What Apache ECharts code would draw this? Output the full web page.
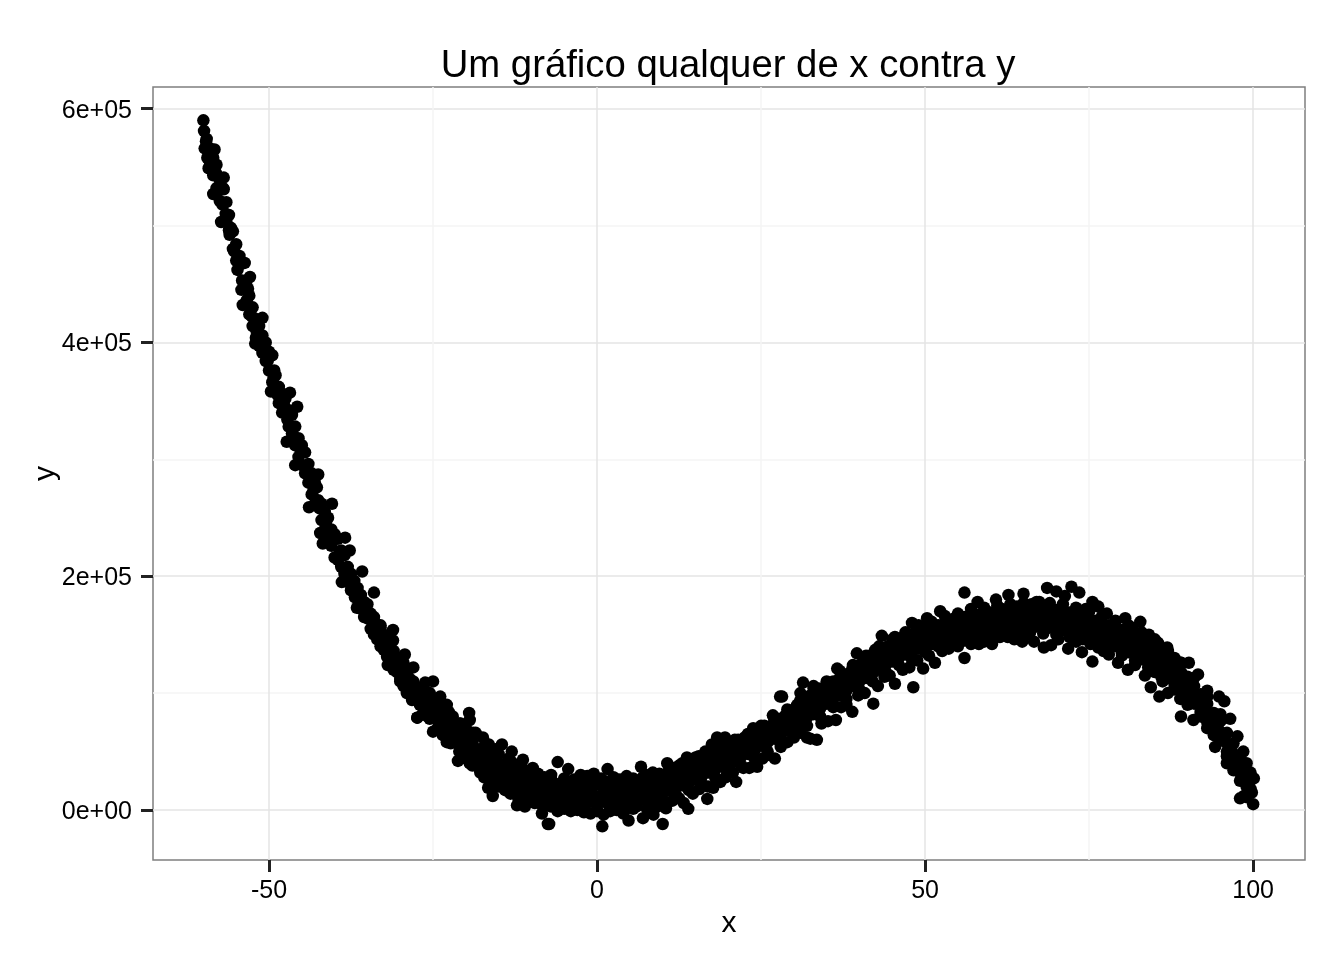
<!DOCTYPE html>
<html>
<head>
<meta charset="utf-8">
<style>html,body{margin:0;padding:0;background:#fff}#c{width:1344px;height:960px}</style>
<script src="https://cdn.jsdelivr.net/npm/echarts@6/dist/echarts.min.js"></script>
</head>
<body>
<div id="c"></div>
<script>
const titleText = "Um gráfico qualquer de x contra y";
const xTicks = [-50, 0, 50, 100];
const xMinorTicks = [-25, 25, 75];
const yTicks = [0, 200000, 400000, 600000];
const yMinorTicks = [100000, 300000, 500000];
const yTickLabels = ["0e+00", "2e+05", "4e+05", "6e+05"];

const leftArm = [
[-60,590000],[-59.9,581000],[-59.8,566000],[-59.6,572000],[-59.5,574000],[-59.4,558000],[-59.2,549000],[-59,566000],[-59,552000],[-58.5,527000],[-58.5,558000],[-58.5,543000],[-58.3,565000],[-58,552000],[-58,532000],[-57.5,539000],[-57.5,521000],[-57.3,503000],[-57,532000],[-56.9,541000],[-56.9,531000],[-56.5,520000],[-56.5,503000],[-56.1,509000],[-56,492000],[-55.8,498000],[-55.5,495000],[-55.5,480000],[-55,484000],[-55,470000],[-54.7,468000],[-54.5,474000],[-54.3,467000],[-53.7,468000],[-54.1,453000],[-52.9,456000],[-53.5,450000],[-54.2,445000],[-53.4,436000],[-54,432000],[-53,440000],[-53,424000],[-52.5,430000],[-52.5,414000],[-52,420000],[-52,404000],[-51.5,414000],[-51.5,397000],[-51,421000],[-51,406000],[-51,391000],[-52.1,399000],[-50.5,400000],[-50.5,384000],[-50,392000],[-50,376000],[-49.5,389000],[-49.5,366000],[-49.2,376000],[-49.7,358000],[-49,372000],[-48.5,362000],[-48.5,348000],[-48,340000],[-48,356000],[-47.5,352000],[-47.3,315000],[-47,342000],[-47,328000],[-46.8,357000],[-46.5,338000],[-46.5,322000],[-46,295000],[-46,328000],[-46,312000],[-45.7,345000],[-45.5,318000],[-45.5,302000],[-45,312000],[-45,295000],[-44.5,306000],[-44.5,288000],[-44,296000],[-44,280000],[-43.9,259000],[-43.5,288000],[-43.5,270000],[-43,280000],[-43,262000],[-42.7,276000],[-42.5,287000],[-42.5,265000],[-42.2,237000],[-42,262000],[-42,248000],[-41.8,228000],[-41.5,255000],[-41.5,240000],[-41,250000],[-41,234000],[-40.4,262000],[-40.5,240000],[-40.5,226000],[-40,216000],[-40,236000],[-39.5,232000],[-39.5,214000],[-39,222000],[-38.9,195000],[-39,208000],[-38.5,218000],[-38.4,233000],[-38.5,202000],[-38,208000],[-38,195000],[-37.7,222000],[-37.5,202000],[-37.5,188000],[-36.9,182000],[-37,196000],[-36.6,173000],[-36.5,190000],[-36,184000],[-36,172000],[-35.8,204000],[-35.5,178000],[-35.5,165000],[-35,164000],[-35,176000],[-34.5,168000],[-34.5,155000],[-34.1,156000],[-34,186000],[-34,162000],[-33.5,155000],[-33.5,146000],[-33,145000],[-33,158000],[-32.5,150000],[-32.5,137000],[-32,139000],[-32,148000],[-31.9,124000],[-31.5,142000],[-31.5,130000],[-31.1,154000],[-31.1,145000],[-31,126000],[-30.5,130000],[-30.5,118000],[-30,110000],[-30,124000],[-29.5,126000],[-29.3,133000],[-29.5,106000],[-29,118000],[-29,100000],[-28.5,112000],[-28.2,94000],[-28,122000],[-28,106000],[-27.4,79000]
];

const leftArmFill = [
[-59.3,566000],[-58.7,555000],[-58.1,545000],[-57.6,530000],[-57.1,518000],[-56.6,510000],[-56.1,496000],[-55.3,478000],[-54.8,462000],[-53.2,446000],[-52.6,422000],[-51.9,410000],[-51.2,400000],[-50.2,384000],[-49.3,370000],[-48.7,355000],[-47.7,346000],[-47.2,334000],[-46.2,318000],[-45.2,308000],[-44.2,292000],[-43.2,274000],[-42.3,258000],[-41.3,244000],[-40.2,232000],[-39.2,220000],[-38.2,206000],[-37.2,194000],[-36.2,180000],[-35.2,170000],[-34.2,160000],[-33.2,150000],[-32.2,142000],[-31.2,132000],[-30.2,122000],[-29.2,112000],[-28.3,104000]
];

const bandUpper = [
[-27.5,104000],[-26.5,98000],[-26.2,109000],[-25.5,100000],[-25,110000],[-24.5,92000],[-23.9,97000],[-23,86000],[-22.9,90000],[-22,80000],[-21,74000],[-20,70000],[-19.5,83000],[-19.4,77000],[-18.5,66000],[-17.4,62000],[-16.5,56000],[-15.5,52000],[-14.5,56000],[-13.5,44000],[-13,50000],[-12,38000],[-11.3,43000],[-10.5,32000],[-9.8,36000],[-9,30000],[-8,28000],[-7,30000],[-6,41000],[-5,27000],[-4.4,35000],[-3.5,26000],[-2.5,30000],[-1.5,29000],[-0.5,31000],[0.6,27000],[1.6,35000],[2.5,28000],[3.5,26000],[4.5,29000],[5.5,27000],[6.7,37000],[7.5,30000],[8.5,32000],[9.5,31000],[10.7,40000],[11.5,36000],[12.5,38000],[13.7,45000],[14.5,42000],[15.5,46000],[16.5,50000],[17.5,56000],[18.3,62000],[19.5,62000],[20.5,55000],[21.5,60000],[22.5,62000],[23.8,70000],[24.5,68000],[25.5,72000],[26.8,81000],[27.5,78000],[27.9,97000],[28.2,97000],[28.7,81000],[29.5,84000],[30.5,90000],[31,100000],[31.4,109000],[32.5,98000],[33,106000],[33.8,104000],[35,108000],[36.6,121000],[37.5,116000],[38.9,121000],[39.6,134000],[40.5,126000],[41.5,132000],[42.4,137000],[43.4,149000],[44.3,140000],[45.4,148000],[46.2,145000],[47,150000],[48,160000],[49,156000],[50.3,164000],[51.2,158000],[52.3,170000],[53.5,162000],[54.5,164000],[56,186000],[57,168000],[58,178000],[59.2,170000],[60.8,180000],[61.7,172000],[62.7,184000],[64,174000],[65,185000],[66.2,176000],[67.4,178000],[68.6,190000],[70,187000],[71.3,183000],[72.3,191000],[73.5,186000],[74.5,172000],[75.5,178000],[76.4,174000],[77.7,168000],[79,162000],[80.5,164000],[81.6,156000],[82.8,161000],[84.1,150000],[85.5,143000],[86.9,139000],[88,130000],[89,126000],[90.2,126000],[91.6,116000],[93,102000],[94.8,97000],[95.6,93000],[96.5,78000],[97.6,63000],[98.5,50000],[99,40000],[99.6,32000],[100.1,27000]
];

const bandOuterUpper = [
[-26.5,104000],[-24.7,93000],[-22.6,84000],[-20.8,74000],[-18.9,66000],[-17,57000],[-15,48000],[-13,41000],[-11,34000],[-9,31000],[-7,27000],[-5,26000],[-3,25000],[-1,26000],[1,25000],[3,26000],[5,25000],[7,28000],[9,30000],[11,35000],[13,40000],[15,45000],[17,50000],[19,55000],[21,60000],[23,65000],[25,72000],[27,78000],[29,86000],[31,94000],[33,104000],[35,110000],[37,119000],[39,124000],[41,132000],[43,140000],[45,146000],[47,152000],[49,158000],[51,161000],[53,166000],[55,168000],[57,172000],[59,173000],[61,175000],[63,176000],[65,177000],[67,178000],[69,177000],[71,176000],[73,173000],[75,170000],[77,166000],[79,161000],[81,158000],[83,152000],[85,146000],[87,136000],[89,126000],[91,113000],[93,97000],[95,82000]
];

const bandMidUpper = [
[-34,165000],[-33,156000],[-32,146000],[-31,136000],[-30,126000],[-29,116000],[-28,110000],[-27,102000],[-26,96000],[-25,93000],[-24,85000],[-23,80000],[-22,74000],[-21,70000],[-20,62000],[-19,58000],[-18,52000],[-17,48000],[-16,44000],[-15,40000],[-14,37000],[-13,32000],[-12,31000],[-11,27000],[-10,26000],[-9,23000],[-8,24000],[-7,21000],[-6,22000],[-5,20000],[-4,21000],[-3,19000],[-2,21000],[-1,20000],[0,22000],[1,19000],[2,21000],[3,20000],[4,19000],[5,21000],[6,22000],[7,23000],[8,25000],[9,26000],[10,29000],[11,31000],[12,33000],[13,36000],[14,38000],[15,41000],[16,43000],[17,47000],[18,49000],[19,53000],[20,53000],[21,56000],[22,58000],[23,61000],[24,64000],[25,67000],[26,71000],[27,75000],[28,78000],[29,82000],[30,86000],[31,90000],[32,93000],[33,98000],[34,101000],[35,106000],[36,110000],[37,113000],[38,116000],[39,121000],[40,124000],[41,128000],[42,131000],[43,134000],[44,138000],[45,141000],[46,144000],[47,147000],[48,150000],[49,152000],[50,155000],[51,156000],[52,158000],[53,160000],[54,162000],[55,163000],[56,165000],[57,165000],[58,167000],[59,167000],[60,169000],[61,169000],[62,171000],[63,170000],[64,172000],[65,171000],[66,173000],[67,172000],[68,172000],[69,171000],[70,171000],[71,169000],[72,169000],[73,167000],[74,165000],[75,164000],[76,162000],[77,160000],[78,158000],[79,155000],[80,154000],[81,151000],[82,148000],[83,146000],[84,141000],[85,139000],[86,134000],[87,129000],[88,123000],[89,118000],[90,114000],[91,106000],[92,99000],[93,91000],[94,83000],[95,76000],[96,66000],[97,57000],[98,46000],[99,33000]
];

const bandCentre = [
[-28,100000],[-27,96000],[-26,90000],[-25,86000],[-24,78000],[-23.2,74000],[-22.2,68000],[-21.2,62000],[-20.3,56000],[-19.2,50000],[-18.3,46000],[-17.3,41000],[-16.2,37000],[-15.2,32000],[-14.2,30000],[-13.2,26000],[-12.2,23000],[-11.2,20000],[-10.2,19000],[-9.2,17000],[-8.2,16000],[-7.2,14000],[-6.2,15000],[-5.2,13000],[-4.2,14000],[-3.2,12000],[-2.2,13000],[-1.2,14000],[-0.2,12000],[0.8,13000],[1.8,14000],[2.8,12000],[3.8,13000],[4.8,14000],[5.8,15000],[6.8,15000],[7.8,18000],[8.8,19000],[9.8,22000],[10.8,24000],[11.8,26000],[12.8,28000],[13.8,31000],[14.8,33000],[15.8,36000],[16.8,38000],[17.8,42000],[18.8,44000],[19.8,46000],[20.8,48000],[21.8,52000],[22.8,53000],[23.8,57000],[24.8,60000],[25.8,63000],[26.8,67000],[27.8,71000],[28.8,74000],[29.8,79000],[30.8,82000],[31.8,86000],[32.8,90000],[33.8,94000],[34.8,98000],[35.8,102000],[36.8,105000],[37.8,109000],[38.8,113000],[39.8,117000],[40.8,120000],[41.8,124000],[42.8,127000],[43.8,131000],[44.8,134000],[45.8,137000],[46.8,140000],[47.8,142000],[48.8,145000],[49.8,148000],[50.8,149000],[51.8,151000],[52.8,153000],[53.8,154000],[54.8,156000],[55.8,157000],[56.8,158000],[57.8,159000],[58.8,160000],[59.8,161000],[60.8,162000],[61.8,162000],[62.8,163000],[63.8,163000],[64.8,164000],[65.8,164000],[66.8,165000],[67.8,164000],[68.8,164000],[69.8,163000],[70.8,161000],[71.8,161000],[72.8,159000],[73.8,158000],[74.8,156000],[75.8,155000],[76.8,152000],[77.8,150000],[78.8,148000],[79.8,146000],[80.8,143000],[81.8,140000],[82.8,137000],[83.8,134000],[84.8,131000],[85.8,125000],[86.8,121000],[87.8,116000],[88.8,111000],[89.8,106000],[90.8,99000],[91.8,92000],[92.8,83000],[93.8,76000],[94.8,68000],[95.8,58000],[96.8,50000],[97.8,40000],[98.3,33000],[98.8,27000],[99.3,22000],[99.6,18000]
];

const bandMidLower = [
[-34,150000],[-33,140000],[-32,131000],[-31,120000],[-30,112000],[-29,104000],[-28,96000],[-27,90000],[-26,84000],[-25,79000],[-24,72000],[-23,67000],[-22,62000],[-21,55000],[-20,49000],[-19,44000],[-18,39000],[-17,35000],[-16,30000],[-15,25000],[-14,23000],[-13,20000],[-12,16000],[-11,13000],[-10,12000],[-9,10000],[-8,9000],[-7,8000],[-6,7000],[-5,6000],[-4,7000],[-3,6000],[-2,6000],[-1,7000],[0,5000],[1,7000],[2,6000],[3,6000],[4,7000],[5,8000],[6,8000],[7,9000],[8,11000],[9,12000],[10,15000],[11,17000],[12,19000],[13,21000],[14,23000],[15,26000],[16,29000],[17,32000],[18,35000],[19,37000],[20,39000],[21,42000],[22,46000],[23,48000],[24,51000],[25,55000],[26,58000],[27,61000],[28,65000],[29,68000],[30,72000],[31,75000],[32,79000],[33,82000],[34,87000],[35,91000],[36,95000],[37,98000],[38,102000],[39,106000],[40,110000],[41,113000],[42,117000],[43,120000],[44,124000],[45,127000],[46,130000],[47,133000],[48,135000],[49,138000],[50,140000],[51,142000],[52,144000],[53,146000],[54,147000],[55,149000],[56,150000],[57,151000],[58,152000],[59,153000],[60,154000],[61,155000],[62,155000],[63,156000],[64,156000],[65,157000],[66,157000],[67,157000],[68,157000],[69,156000],[70,155000],[71,154000],[72,153000],[73,152000],[74,150000],[75,149000],[76,146000],[77,144000],[78,142000],[79,140000],[80,138000],[81,135000],[82,132000],[83,129000],[84,126000],[85,122000],[86,117000],[87,113000],[88,108000],[89,103000],[90,97000],[91,91000],[92,84000],[93,75000],[94,68000],[95,60000],[96,50000],[97,42000],[98,32000],[99,20000]
];

const bandOuterLower = [
[-25.8,80000],[-23.8,69000],[-21.7,60000],[-19.8,46000],[-18,36000],[-16,27000],[-14,19000],[-12,12000],[-10,7000],[-8,4000],[-6,3000],[-4,1000],[-2,2000],[0,0],[2,1000],[4,2000],[6,3000],[8,5000],[10,9000],[12,13000],[14,17000],[16,22000],[18,28000],[20,33000],[22,38000],[24,44000],[26,50000],[28,58000],[30,66000],[32,72000],[34,80000],[36,88000],[38,95000],[40,103000],[42,110000],[44,118000],[46,124000],[48,129000],[50,135000],[52,140000],[54,142000],[56,145000],[58,147000],[60,149000],[62,150000],[64,151000],[66,152000],[68,151000],[70,150000],[72,148000],[74,146000],[76,142000],[78,138000],[80,134000],[82,128000],[84,122000],[86,114000],[88,104000],[90,92000],[92,80000],[94,64000],[96,46000]
];

const bandLower = [
[-27.4,79000],[-26.6,82000],[-25.5,78000],[-25,67000],[-24.3,70000],[-23.5,64000],[-22.9,58000],[-22.3,57000],[-21.2,42000],[-21,50000],[-20,44000],[-19.4,40000],[-19,38000],[-17.8,32000],[-17.2,28000],[-16.6,19000],[-16.2,24000],[-15.9,12000],[-15,20000],[-14,17000],[-13.2,14000],[-12.2,4000],[-12,10000],[-11,3000],[-10.5,8000],[-9.5,6000],[-8.4,-3000],[-8.5,5000],[-7.5,-12000],[-7.3,-12000],[-7,3000],[-6,-1000],[-5,1000],[-4,-1000],[-3,0],[-2,-2000],[-1,-3000],[0,-1000],[0.8,-14000],[1,-4000],[2,-1000],[3,0],[4,-3000],[4.8,-9000],[5.5,1000],[7,-7000],[7.6,1000],[8.6,-4000],[9.2,3000],[10,-12000],[10.5,1500],[11.5,8000],[12.5,10000],[13.2,6000],[13.9,1000],[14.6,14000],[15.6,18000],[16.8,9500],[16.9,20000],[17.7,19000],[18.8,24000],[19.6,28000],[20.7,32000],[21.2,24000],[22.3,36000],[23.2,36000],[24.4,37000],[25.2,44000],[26,47000],[27.1,44000],[28,54000],[29,58000],[30,62000],[31,66000],[32,62000],[32.5,61000],[33.5,60000],[34.2,74000],[35.2,76000],[36.4,77000],[37.2,88000],[38,90000],[38.9,84000],[39.8,98000],[40.8,100000],[42.1,91000],[42.8,106000],[43.8,114000],[44.6,115000],[45.4,108000],[46.6,120000],[47.6,122000],[48.2,105000],[48.8,128000],[49.7,121000],[50.6,132000],[51.5,126000],[52.6,136000],[53.6,138000],[55,140000],[56,130000],[57,142000],[58.2,142000],[59,144000],[60.2,142000],[61.4,148000],[62.6,148000],[63.6,146000],[64.8,144000],[65.6,150000],[66.6,144000],[68.1,139000],[69.2,141000],[70.3,146000],[71.8,138000],[73,144000],[73.9,135000],[75.5,127000],[75.2,142000],[76.4,139000],[77.2,136000],[78,133000],[79.4,126000],[80,132000],[80.9,120000],[82,124000],[83.5,115000],[84.4,105000],[85,118000],[85.7,97000],[86.2,110000],[87,100000],[88,103000],[88.9,95000],[89,80000],[90,90000],[90.9,77000],[92,82000],[93,70000],[94.2,54000],[95,60000],[96,40000],[97,34000],[98,25000],[98,10000],[98.6,12000],[99,11000],[99.8,15000],[100,5000]
];

const allPoints = leftArm.concat(leftArmFill, bandUpper, bandOuterUpper, bandMidUpper, bandCentre, bandMidLower, bandOuterLower, bandLower);

const xMin = -67.68, xMax = 107.9, yMin = -42770, yMax = 618500;
const font = "'Liberation Sans', Arial, sans-serif";

const chart = echarts.init(document.getElementById('c'), null, {renderer:'canvas'});
chart.setOption({
  animation: false,
  backgroundColor: '#ffffff',
  title: {
    text: titleText, left: 723, top: 42, textAlign: 'center',
    textStyle: {fontFamily: font, fontSize: 38.3, fontWeight: 'normal', color: '#000'}
  },
  grid: {left:153, top:87, width:1152, height:773, show:true, backgroundColor:'#fff', borderColor:'#7f7f7f', borderWidth:1.5},
  xAxis: [
    {type:'value', min:xMin, max:xMax, name:'x', nameLocation:'middle', nameGap:48,
     nameTextStyle:{fontFamily:font,fontSize:30,color:'#000'},
     axisLine:{show:false,onZero:false},
     axisTick:{show:true,length:12,customValues:xTicks,lineStyle:{color:'#222',width:3}},
     axisLabel:{customValues:xTicks,margin:19,fontFamily:font,fontSize:25,color:'#000'},
     splitLine:{show:true,lineStyle:{color:'#e5e5e5',width:1.5}}},
    {type:'value', min:xMin, max:xMax,
     axisLine:{show:false,onZero:false},
     axisTick:{show:false,customValues:xMinorTicks},
     axisLabel:{show:false,customValues:xMinorTicks},
     splitLine:{show:true,lineStyle:{color:'#f5f5f5',width:1.5}}}
  ],
  yAxis: [
    {type:'value', min:yMin, max:yMax, name:'y', nameLocation:'middle', nameGap:92, nameRotate:90, nameMoveOverlap:false,
     nameTextStyle:{fontFamily:font,fontSize:30,color:'#000'},
     axisLine:{show:false,onZero:false},
     axisTick:{show:true,length:12,customValues:yTicks,lineStyle:{color:'#222',width:3}},
     axisLabel:{customValues:yTicks,margin:21,verticalAlign:'top',lineHeight:4,fontFamily:font,fontSize:25,color:'#000',
       formatter:v=>yTickLabels[yTicks.indexOf(v)]},
     splitLine:{show:true,lineStyle:{color:'#e5e5e5',width:1.5}}},
    {type:'value', min:yMin, max:yMax, position:'left',
     axisLine:{show:false,onZero:false},
     axisTick:{show:false,customValues:yMinorTicks},
     axisLabel:{show:false,customValues:yMinorTicks},
     splitLine:{show:true,lineStyle:{color:'#f5f5f5',width:1.5}}}
  ],
  series: [{
    type:'scatter', data:allPoints, symbol:'circle', symbolSize:12.5,
    itemStyle:{color:'#000',opacity:1}, silent:true
  }]
});
</script>
</body>
</html>
